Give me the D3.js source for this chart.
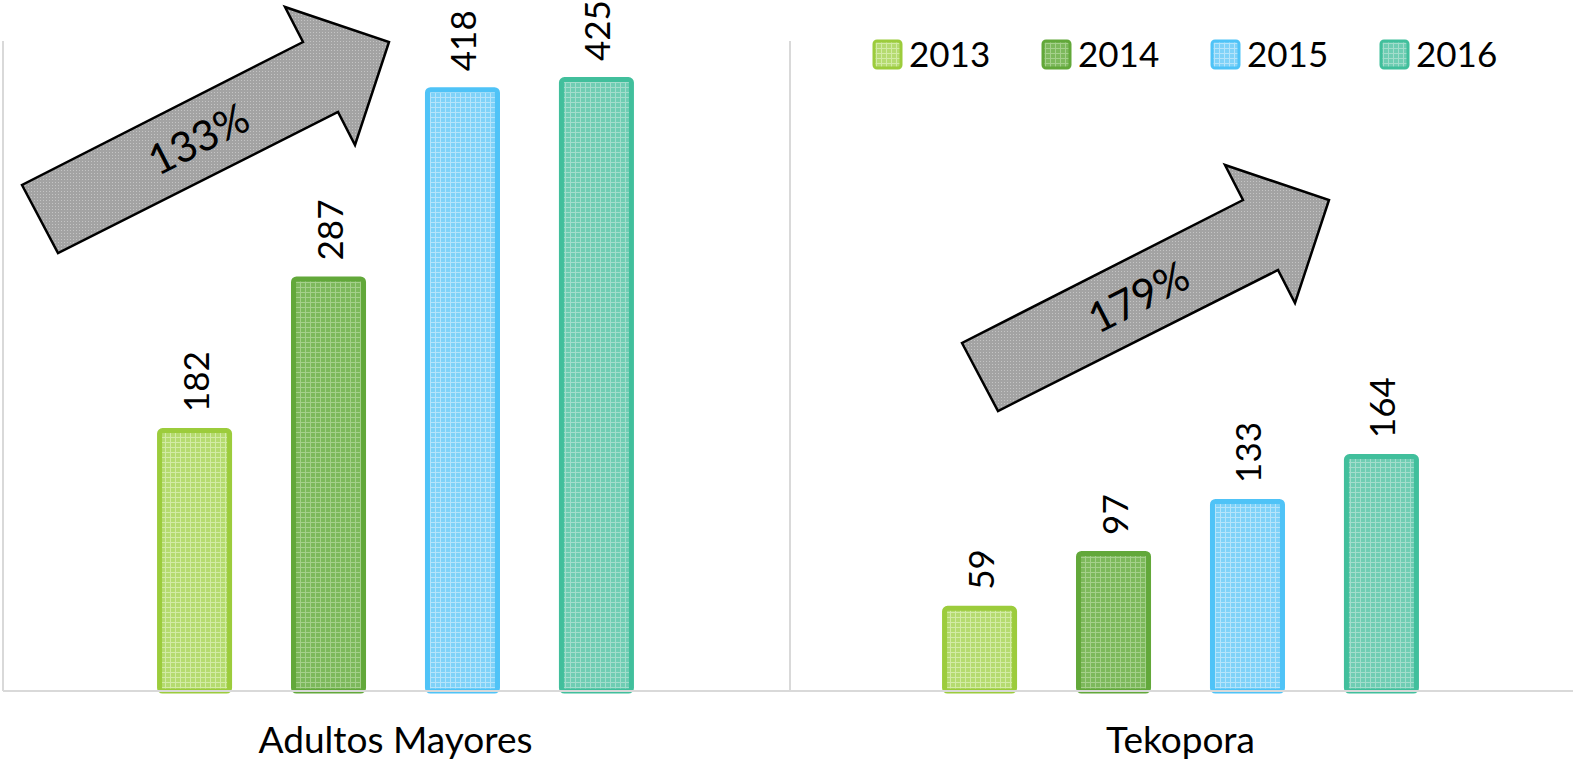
<!DOCTYPE html>
<html>
<head>
<meta charset="utf-8">
<script src="https://cdn.jsdelivr.net/npm/d3@7"></script>
<style>
  body { margin: 0; background: #fff; }
  text { font-family: Lato, "Open Sans", sans-serif; fill: #000; }
</style>
</head>
<body>
<svg id="chart" width="1573" height="765"></svg>
<script>
// data
var categories = ['Adultos Mayores', 'Tekopora'];
var years = ['2013', '2014', '2015', '2016'];
var adultosMayores = [182, 287, 418, 425];
var tekopora = [59, 97, 133, 164];
var growthLabels = ['133%', '179%'];

var seriesByCat = [adultosMayores, tekopora];

// colours per year: edge, fill, dots
var edgeColors = ['#9ccc3c', '#62a83a', '#4fc3f7', '#41bf9c'];
var fillColors = ['#b5db70', '#7db95c', '#7fd2f8', '#6fcdb3'];
var dotColors  = ['#d3eba5', '#a5d08b', '#b5e4fb', '#a2ddcc'];

var chartW = 1573, chartH = 765;
var plotLeft = 3, plotRight = 1573, plotTop = 41, plotBottom = 691;

var svg = d3.select('#chart');
var defs = svg.append('defs');

// little dotted textures like the office pattern fills
years.forEach(function(y, i) {
    var p = defs.append('pattern')
        .attr('id', 'pat' + i)
        .attr('patternUnits', 'userSpaceOnUse')
        .attr('width', 5).attr('height', 5);
    p.append('rect').attr('width', 5).attr('height', 5).attr('fill', fillColors[i]);
    p.append('rect').attr('x', 0).attr('y', 2).attr('width', 5).attr('height', 1).attr('fill', dotColors[i]);
    p.append('rect').attr('x', 2).attr('y', 0).attr('width', 1).attr('height', 5).attr('fill', dotColors[i]);
});
var ap = defs.append('pattern')
    .attr('id', 'patArrow')
    .attr('patternUnits', 'userSpaceOnUse')
    .attr('width', 3).attr('height', 3);
ap.append('rect').attr('width', 3).attr('height', 3).attr('fill', '#a3a3a3');
ap.append('rect').attr('width', 1).attr('height', 1).attr('fill', '#c4c4c4');

var x0 = d3.scaleBand()
    .domain(categories)
    .range([plotLeft, plotRight]);

var x1 = d3.scaleBand()
    .domain(years)
    .range([0, x0.bandwidth()])
    .paddingInner(0.44)
    .paddingOuter(1.15);

var y = d3.scaleLinear()
    .domain([0, 450])
    .range([plotBottom, plotTop]);

// frame lines: left edge, category divider, baseline
var gridColor = '#d9d9d9';
svg.append('line')
    .attr('x1', plotLeft).attr('x2', plotLeft)
    .attr('y1', plotTop).attr('y2', plotBottom)
    .attr('stroke', gridColor).attr('stroke-width', 2);
svg.append('line')
    .attr('x1', x0(categories[1]) + 2).attr('x2', x0(categories[1]) + 2)
    .attr('y1', plotTop).attr('y2', plotBottom)
    .attr('stroke', gridColor).attr('stroke-width', 2);

// bars
var groups = svg.selectAll('.group')
    .data(categories)
    .enter()
    .append('g')
    .attr('class', 'group')
    .attr('transform', function(d) { return 'translate(' + x0(d) + ',0)'; });

var rows = function(d, ci) {
    return years.map(function(yr, i) { return { year: yr, i: i, value: seriesByCat[ci][i] }; });
};

var sw = 5;
groups.selectAll('rect.bar')
    .data(rows)
    .enter()
    .append('rect')
    .attr('class', 'bar')
    .attr('x', function(d) { return x1(d.year) + sw / 2; })
    .attr('y', function(d) { return y(d.value) + sw / 2; })
    .attr('width', x1.bandwidth() - sw)
    .attr('height', function(d) { return y(0) - y(d.value) - sw / 2; })
    .attr('rx', 3)
    .attr('fill', function(d) { return 'url(#pat' + d.i + ')'; })
    .attr('stroke', function(d) { return edgeColors[d.i]; })
    .attr('stroke-width', sw);

// value labels, rotated
groups.selectAll('text.val')
    .data(rows)
    .enter()
    .append('text')
    .attr('class', 'val')
    .attr('transform', function(d) {
        return 'translate(' + (x1(d.year) + x1.bandwidth() / 2) + ',' + (y(d.value) - 16) + ') rotate(-90)';
    })
    .attr('dominant-baseline', 'central')
    .attr('font-size', 35)
    .text(function(d) { return d.value; });

// baseline drawn over bar bottoms
svg.append('line')
    .attr('x1', plotLeft).attr('x2', plotRight)
    .attr('y1', plotBottom).attr('y2', plotBottom)
    .attr('stroke', gridColor).attr('stroke-width', 2);

// category axis
var xAxis = svg.append('g')
    .attr('transform', 'translate(0,' + plotBottom + ')')
    .call(d3.axisBottom(x0).tickSize(0).tickPadding(36));
xAxis.select('.domain').remove();
xAxis.selectAll('text')
    .attr('font-size', 37)
    .attr('font-family', 'Lato, "Open Sans", sans-serif')
    .attr('fill', '#000');

// legend
var legend = svg.selectAll('.legend')
    .data(years)
    .enter()
    .append('g')
    .attr('class', 'legend')
    .attr('transform', function(d, i) { return 'translate(' + (874 + i * 169) + ',41)'; });
legend.append('rect')
    .attr('width', 27).attr('height', 27).attr('rx', 3)
    .attr('fill', function(d, i) { return 'url(#pat' + i + ')'; })
    .attr('stroke', function(d, i) { return edgeColors[i]; })
    .attr('stroke-width', 3);
legend.append('text')
    .attr('x', 35).attr('y', 12)
    .attr('dominant-baseline', 'central')
    .attr('font-size', 35)
    .text(function(d) { return d; });

// growth arrows (annotation shape, local coords)
var arrowShape = [[0, 0], [36, 68], [316, -73], [333, -40], [367, -143], [263, -178], [281, -143]];
var arrowPlaces = [[22, 185], [962, 343]];

arrowPlaces.forEach(function(pos, i) {
    var g = svg.append('g').attr('transform', 'translate(' + pos[0] + ',' + pos[1] + ')');
    g.append('path')
        .attr('d', d3.line()(arrowShape) + 'Z')
        .attr('fill', 'url(#patArrow)')
        .attr('stroke', '#000')
        .attr('stroke-width', 2.5)
        .attr('stroke-linejoin', 'miter');
    g.append('text')
        .attr('transform', 'translate(176,-47) rotate(-27)')
        .attr('text-anchor', 'middle')
        .attr('dominant-baseline', 'central')
        .attr('font-size', 42)
        .text(growthLabels[i]);
});
</script>
</body>
</html>
